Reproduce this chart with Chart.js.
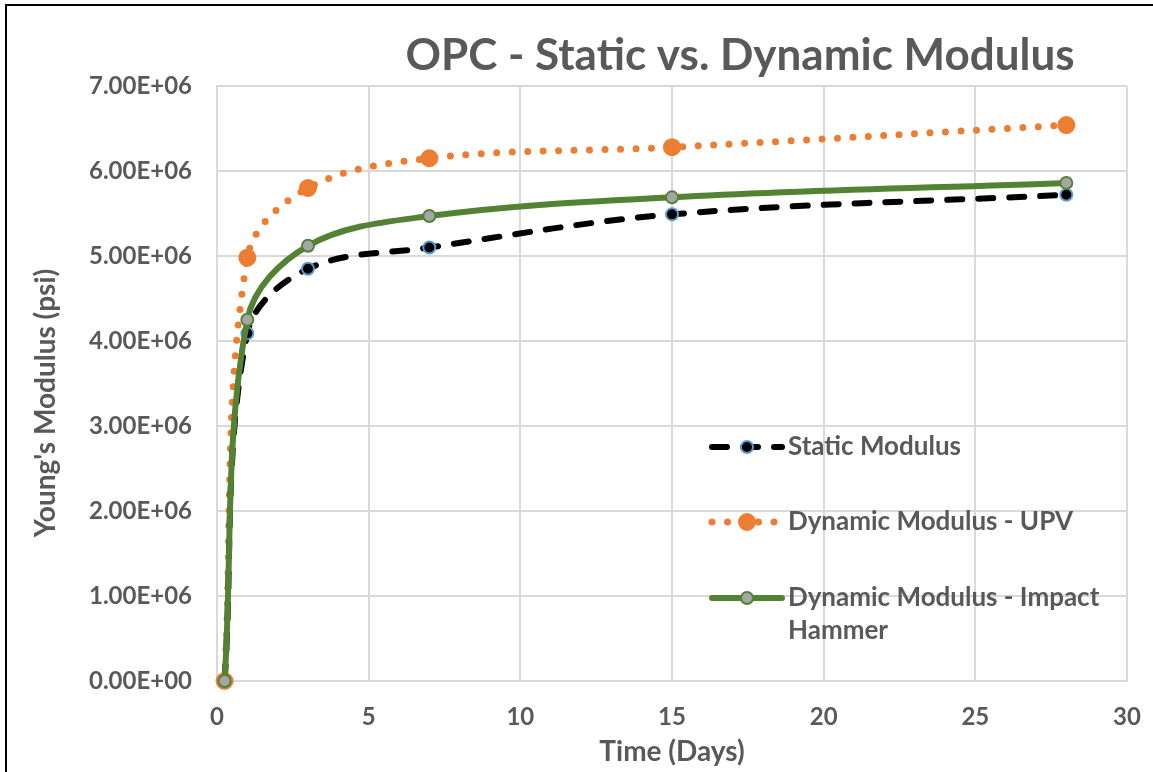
<!DOCTYPE html>
<html>
<head>
<meta charset="utf-8">
<title>OPC - Static vs. Dynamic Modulus</title>
<script src="https://cdn.jsdelivr.net/npm/chart.js@4/dist/chart.umd.min.js"></script>
<style>
  html, body { margin: 0; padding: 0; background: #fff; }
  canvas { display: block; }
</style>
</head>
<body>
<canvas id="chart" width="1153" height="772"></canvas>
<script>
// Edad del ensayo (días) y módulo de Young (psi) por método
const dias = [0.25, 1, 3, 7, 15, 28];
const estatico = [0, 4.09e6, 4.85e6, 5.10e6, 5.49e6, 5.72e6];
const dinamicoUPV = [0, 4.98e6, 5.80e6, 6.15e6, 6.28e6, 6.54e6];
const dinamicoImpacto = [0, 4.25e6, 5.12e6, 5.47e6, 5.69e6, 5.86e6];

const etiquetas = ['Static Modulus', 'Dynamic Modulus - UPV', 'Dynamic Modulus - Impact Hammer'];
const titulo = 'OPC - Static vs. Dynamic Modulus';
const tituloX = 'Time (Days)';
const tituloY = "Young's Modulus (psi)";

const GRIS_TEXTO = '#595959';
const GRIS_REJILLA = '#d9d9d9';
const FUENTE = 'Lato, "Open Sans", sans-serif';

const puntos = serie => dias.map((d, i) => ({ x: d, y: serie[i] }));

const estilos = [
  { color: '#000000', ancho: 6, dash: [15, 16], radio: 6, relleno: '#000000', borde: '#5b9bd5' },
  { color: '#ed7d31', ancho: 7, dash: [0, 15.5], radio: 8, relleno: '#ed7d31', borde: '#ed7d31' },
  { color: '#548235', ancho: 6, dash: [], radio: 6, relleno: '#a5a5a5', borde: '#548235' }
];

function dataset(label, serie, e, order) {
  return {
    label,
    data: puntos(serie),
    borderColor: e.color,
    borderWidth: e.ancho,
    borderDash: e.dash,
    borderCapStyle: 'round',
    borderJoinStyle: 'round',
    pointRadius: e.radio,
    pointBackgroundColor: e.relleno,
    pointBorderColor: e.borde,
    pointBorderWidth: 2,
    tension: 0.35,
    clip: false,
    order
  };
}

// marco, títulos y leyenda dibujados a mano
const decoracion = {
  id: 'decoracion',
  beforeDraw(chart) {
    const ctx = chart.ctx;
    ctx.save();
    ctx.fillStyle = '#fff';
    ctx.fillRect(0, 0, chart.width, chart.height);
    ctx.strokeStyle = '#000';
    ctx.lineWidth = 2;
    ctx.beginPath();
    ctx.moveTo(6, chart.height);
    ctx.lineTo(6, 5);
    ctx.lineTo(chart.width, 5);
    ctx.stroke();
    ctx.restore();
  },
  afterDraw(chart) {
    const ctx = chart.ctx;
    ctx.save();
    ctx.fillStyle = GRIS_TEXTO;
    ctx.font = 'bold 44px ' + FUENTE;
    ctx.textAlign = 'center';
    ctx.textBaseline = 'middle';
    ctx.fillText(titulo, 740, 56);

    // título del eje Y, girado
    ctx.save();
    ctx.translate(46, 403);
    ctx.rotate(-Math.PI / 2);
    ctx.font = 'bold 28px ' + FUENTE;
    ctx.fillText(tituloY, 0, 0);
    ctx.restore();

    const filas = [447, 522, 598];
    ctx.font = 'bold 26px ' + FUENTE;
    ctx.textAlign = 'left';
    filas.forEach((y, i) => {
      const e = estilos[i];
      ctx.strokeStyle = e.color;
      ctx.lineWidth = e.ancho;
      ctx.lineCap = 'round';
      ctx.setLineDash(e.dash);
      ctx.beginPath();
      ctx.moveTo(712, y);
      ctx.lineTo(782, y);
      ctx.stroke();
      ctx.setLineDash([]);
      ctx.beginPath();
      ctx.arc(747, y, e.radio, 0, Math.PI * 2);
      ctx.fillStyle = e.relleno;
      ctx.fill();
      ctx.lineWidth = 2;
      ctx.strokeStyle = e.borde;
      ctx.stroke();
      ctx.fillStyle = GRIS_TEXTO;
      if (i === 2) {
        ctx.fillText('Dynamic Modulus - Impact', 788, y);
        ctx.fillText('Hammer', 788, y + 33);
      } else {
        ctx.fillText(etiquetas[i], 788, y);
      }
    });
    ctx.restore();
  }
};

new Chart(document.getElementById('chart'), {
  type: 'line',
  data: {
    datasets: [
      dataset(etiquetas[0], estatico, estilos[0], 1),
      dataset(etiquetas[1], dinamicoUPV, estilos[1], 2),
      dataset(etiquetas[2], dinamicoImpacto, estilos[2], 0)
    ]
  },
  options: {
    responsive: false,
    animation: false,
    layout: { padding: { left: 0, top: 86, right: 26, bottom: 0 } },
    plugins: { legend: { display: false }, title: { display: false }, tooltip: { enabled: false } },
    scales: {
      x: {
        type: 'linear',
        min: 0,
        max: 30,
        afterFit: s => { s.height = 91; s.paddingLeft = 0; s.paddingRight = 0; },
        ticks: { stepSize: 5, padding: 22, color: GRIS_TEXTO, font: { family: FUENTE, size: 24, weight: 'bold' } },
        grid: { color: GRIS_REJILLA, lineWidth: 2, drawTicks: false },
        border: { color: GRIS_REJILLA, width: 2 },
        title: { display: true, text: tituloX, color: GRIS_TEXTO, font: { family: FUENTE, size: 28, weight: 'bold' }, padding: { top: 0, bottom: 3 } }
      },
      y: {
        min: 0,
        max: 7e6,
        afterFit: s => { s.width = 217; s.paddingTop = 0; s.paddingBottom = 0; },
        ticks: {
          stepSize: 1e6,
          padding: 25,
          color: GRIS_TEXTO,
          font: { family: FUENTE, size: 24, weight: 'bold' },
          callback: v => v === 0 ? '0.00E+00' : (v / 1e6).toFixed(2) + 'E+06'
        },
        grid: { color: GRIS_REJILLA, lineWidth: 2, drawTicks: false },
        border: { color: GRIS_REJILLA, width: 2 }
      }
    }
  },
  plugins: [decoracion]
});
</script>
</body>
</html>
